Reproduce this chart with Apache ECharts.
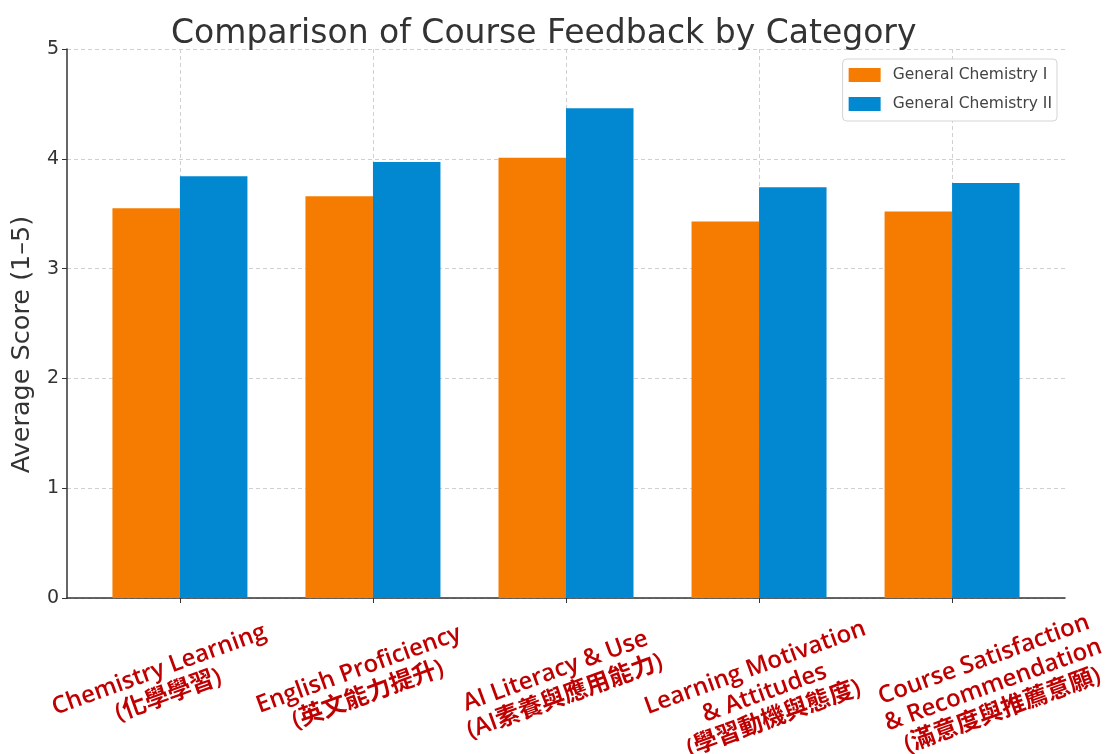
<!DOCTYPE html>
<html>
<head>
<meta charset="utf-8">
<script src="https://cdn.jsdelivr.net/npm/echarts@6/dist/echarts.min.js"></script>
<style>
  html, body { margin: 0; padding: 0; background: #fff; }
  #chart { width: 1110px; height: 754px; }
</style>
</head>
<body>
<div id="chart"></div>
<script>
// categories (x positions 0..4)
var categories = [
  'Chemistry Learning\n(化學學習)',
  'English Proficiency\n(英文能力提升)',
  'AI Literacy & Use\n(AI素養與應用能力)',
  'Learning Motivation\n& Attitudes\n(學習動機與態度)',
  'Course Satisfaction\n& Recommendation\n(滿意度與推薦意願)'
]
var seriesNames = ['General Chemistry I', 'General Chemistry II']
var chemI = [3.55, 3.66, 4.01, 3.43, 3.52]
var chemII = [3.84, 3.97, 4.46, 3.74, 3.78]
var yTicks = [0, 1, 2, 3, 4, 5]

// label nudges: [shift along text, extra margin] -- labels in the source sit a bit irregularly
var labelNudge = [[-27, 2], [-20, 4], [-16, 7], [-9, 6], [29, 11]]

var positions = categories.map(function(c, i) { return i })
function toPoints(vals) {
  return vals.map(function(v, i) { return [i, v] })
}

var chart = echarts.init(document.getElementById('chart'))
var fontMain = 'DejaVu Sans'
var dashed = { color: '#d0d0d0', type: [4, 3], width: 1 }
var xMin = -0.585
var xMax = 4.585

var xAxes = [{
  type: 'value',
  position: 'bottom',
  min: xMin,
  max: xMax,
  axisLine: { show: true, onZero: false, lineStyle: { color: '#333', width: 1.5 } },
  axisTick: { show: true, customValues: positions, length: 5, lineStyle: { color: '#333' } },
  splitLine: { show: true, lineStyle: dashed },
  axisLabel: { show: false }
}]
// one axis per label so they never get dropped as overlapping
positions.forEach(function(p) {
  var d = labelNudge[p][0]
  xAxes.push({
    type: 'value',
    position: 'bottom',
    offset: 0,
    min: xMin,
    max: xMax,
    axisLine: { show: false, onZero: false },
    axisTick: { show: false },
    splitLine: { show: false },
    axisLabel: {
      customValues: [p],
      hideOverlap: false,
      formatter: function() { return categories[p] },
      rotate: 20,
      align: 'center',
      verticalAlign: 'top',
      margin: 48 + labelNudge[p][1],
      padding: d < 0 ? [0, -2 * d, 0, 0] : [0, 0, 0, 2 * d],
      color: '#c00000',
      fontWeight: 600,
      fontSize: 24,
      lineHeight: 27,
      fontFamily: 'Open Sans, Noto Sans CJK TC'
    }
  })
})

chart.setOption({
  animation: false,
  title: {
    text: 'Comparison of Course Feedback by Category',
    left: 166,
    top: 13,
    textStyle: { fontFamily: fontMain, fontSize: 33, fontWeight: 'normal', color: '#333' }
  },
  legend: {
    orient: 'vertical',
    right: 53,
    top: 59,
    icon: 'rect',
    itemWidth: 32,
    itemHeight: 14,
    itemGap: 13,
    padding: [8, 5, 9, 6],
    borderColor: '#d4d4d4',
    borderWidth: 1,
    borderRadius: 4,
    backgroundColor: '#fff',
    textStyle: { fontFamily: fontMain, fontSize: 15.5, color: '#444', padding: [0, 0, 0, 7] },
    data: seriesNames
  },
  grid: { left: 67, right: 45, top: 49, bottom: 156, outerBoundsMode: 'none' },
  xAxis: xAxes,
  yAxis: {
    type: 'value',
    min: yTicks[0],
    max: yTicks[yTicks.length - 1],
    interval: 1,
    name: 'Average Score (1–5)',
    nameLocation: 'middle',
    nameGap: 32,
    nameTextStyle: { fontFamily: fontMain, fontSize: 25.5, color: '#333', padding: [0, 42, 0, 0] },
    axisLine: { show: true, onZero: false, lineStyle: { color: '#333', width: 1.5 } },
    axisTick: { show: true, length: 5, lineStyle: { color: '#333' } },
    axisLabel: { fontFamily: fontMain, fontSize: 19, color: '#333', margin: 8 },
    splitLine: { show: true, lineStyle: dashed }
  },
  series: [
    {
      name: seriesNames[0],
      type: 'bar',
      data: toPoints(chemI),
      barWidth: 67.5,
      barGap: '0%',
      itemStyle: { color: '#F57C00' }
    },
    {
      name: seriesNames[1],
      type: 'bar',
      data: toPoints(chemII),
      barWidth: 67.5,
      barGap: '0%',
      itemStyle: { color: '#0288D1' }
    }
  ]
})
</script>
</body>
</html>
